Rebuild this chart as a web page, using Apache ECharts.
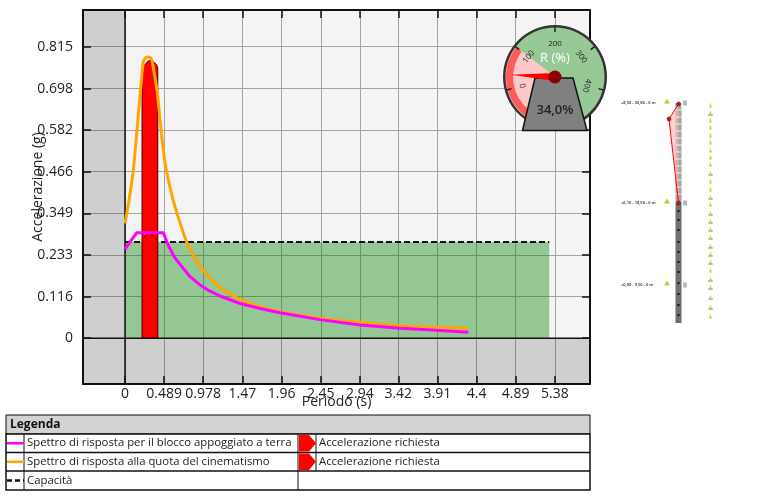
<!DOCTYPE html>
<html>
<head>
<meta charset="utf-8">
<style>
  html, body { margin: 0; padding: 0; background: #fff; }
  #chart { width: 757px; height: 496px; }
</style>
<script src="https://cdn.jsdelivr.net/npm/echarts@6/dist/echarts.min.js"></script>
</head>
<body>
<div id="chart"></div>
<script>
// axis ticks as printed on the chart
const periodTicks = [0, 0.489, 0.978, 1.47, 1.96, 2.45, 2.94, 3.42, 3.91, 4.4, 4.89, 5.38];
const accelTicks = [0, 0.116, 0.233, 0.349, 0.466, 0.582, 0.698, 0.815];

// spectra
const groundPeriod = [0, 0.146, 0.48, 0.542, 0.626, 0.814, 0.939, 1.052, 1.19, 1.44, 1.69, 1.94, 2.44, 2.94, 3.44, 3.9, 4.297];
const groundAccel = [0.249, 0.295, 0.295, 0.259, 0.224, 0.172, 0.149, 0.133, 0.118, 0.097, 0.083, 0.071, 0.052, 0.037, 0.028, 0.022, 0.017];
const storeyPeriod = [0, 0.05, 0.104, 0.15, 0.2, 0.229, 0.263, 0.292, 0.326, 0.342, 0.376, 0.405, 0.451, 0.501, 0.576, 0.626, 0.701, 0.772, 0.939, 1.106, 1.252, 1.44, 1.69, 1.941, 2.442, 2.943, 3.443, 3.9, 4.295];
const storeyAccel = [0.321, 0.386, 0.47, 0.582, 0.708, 0.772, 0.785, 0.786, 0.782, 0.772, 0.727, 0.686, 0.582, 0.49, 0.409, 0.367, 0.314, 0.269, 0.201, 0.159, 0.132, 0.109, 0.088, 0.074, 0.056, 0.0445, 0.035, 0.031, 0.028];
const capacityPeriod = [0, 5.31];
const capacityAccel = [0.269, 0.269];
const demandPeriod = [0.213, 0.213, 0.23, 0.29, 0.335, 0.396, 0.41, 0.41];
const demandAccel = [0, 0.7, 0.76, 0.775, 0.778, 0.764, 0.755, 0];
const demandGroundPeriod = [0.229, 0.313, 0.396];
const demandGroundAccel = [0.28, 0.294, 0.275];

// gauge
const gaugeValue = 34;
const gaugeLimit = 100;

// side diagram, in its own scale
const wallTop = 103;
const wallJoint = 203;
const wallBottom = 323;
const wallX = 678.5;
const mechanismX = [678.5, 669, 678.5];
const mechanismY = [104, 119, 203];
const upperJoints = [110, 117, 124, 131, 138, 145, 152, 159, 166, 173, 180, 187, 194];
const lowerJoints = [211, 220, 230, 242, 252, 262, 272, 283, 294, 305, 315];
const levelY = [103, 203, 285];
const levelLabels = ['+8,50 - 26,86 - 0 m', '+6,10 - 18,50 - 0 m', '+0,00 - 9,50 - 0 m'];
const loadY = [105, 113, 120, 127, 135, 142, 150, 157, 164, 173, 181, 189, 197, 204, 213, 221, 229, 237, 246, 254, 262, 270, 279, 287, 297, 307, 316];
const loadBaseY = [115, 175, 199, 215, 223, 231, 239, 248, 256, 264, 281, 289, 299, 309];

const legendRows = [
  ['Spettro di risposta per il blocco appoggiato a terra', 'Accelerazione richiesta'],
  ['Spettro di risposta alla quota del cinematismo', 'Accelerazione richiesta'],
  ['Capacità', '']
];

const FONT = '"Open Sans", sans-serif';
const xMin = -0.526, xMax = 5.82, yMin = -0.128, yMax = 0.9176;

const zip = (xs, ys) => xs.map((x, i) => [x, ys[i]]);

function line(name, data, color, extra) {
  return Object.assign({
    name, type: 'line', data, showSymbol: false, silent: true, animation: false,
    xAxisIndex: 0, yAxisIndex: 0,
    lineStyle: { color, width: 3 }, itemStyle: { color }
  }, extra);
}

function side(name, data, extra) {
  return Object.assign({ name, data, silent: true, animation: false, xAxisIndex: 2, yAxisIndex: 2 }, extra);
}

const frameAxis = {
  axisLine: { onZero: false, lineStyle: { color: '#111', width: 2 } },
  axisTick: { inside: true, length: 8, lineStyle: { color: '#111', width: 1.5 } }
};

const chart = echarts.init(document.getElementById('chart'), null, { renderer: 'canvas' });

// legend table
const legendGraphic = [];
const tableL = 6, tableR = 590, splitX = 298, keyX = 24, arrowX = 316;
const rowY = [434, 452.5, 471, 490];
legendGraphic.push({ type: 'rect', shape: { x: tableL, y: 415, width: tableR - tableL, height: 19 }, style: { fill: '#d3d3d3', stroke: '#111', lineWidth: 1 } });
legendGraphic.push({ type: 'rect', shape: { x: tableL, y: 434, width: tableR - tableL, height: 56 }, style: { fill: '#fff', stroke: '#111', lineWidth: 1.5 } });
legendGraphic.push({ type: 'text', x: 10, y: 424.5, style: { text: 'Legenda', font: 'bold 12px ' + FONT, fill: '#111', verticalAlign: 'middle' } });
rowY.slice(1, 3).forEach(y => {
  legendGraphic.push({ type: 'line', shape: { x1: tableL, y1: y, x2: tableR, y2: y }, style: { stroke: '#111', lineWidth: 1.5 } });
});
legendGraphic.push({ type: 'line', shape: { x1: keyX, y1: 434, x2: keyX, y2: 490 }, style: { stroke: '#111', lineWidth: 1 } });
legendGraphic.push({ type: 'line', shape: { x1: splitX, y1: 434, x2: splitX, y2: 490 }, style: { stroke: '#111', lineWidth: 1 } });
legendGraphic.push({ type: 'line', shape: { x1: arrowX, y1: 434, x2: arrowX, y2: 471 }, style: { stroke: '#111', lineWidth: 1 } });
const keyColors = ['#ff00ff', '#ffa500', '#111'];
legendRows.forEach((row, i) => {
  const mid = (rowY[i] + rowY[i + 1]) / 2;
  legendGraphic.push({ type: 'line', shape: { x1: 7, y1: mid, x2: keyX, y2: mid }, style: { stroke: keyColors[i], lineWidth: 2.5, lineDash: i === 2 ? [5, 3] : null } });
  legendGraphic.push({ type: 'text', x: 27, y: mid, style: { text: row[0], font: '11.35px ' + FONT, fill: '#222', verticalAlign: 'middle' } });
  if (row[1]) {
    legendGraphic.push({ type: 'polygon', shape: { points: [[299, rowY[i] + 1], [309, rowY[i] + 1], [316, mid], [309, rowY[i + 1] - 1], [299, rowY[i + 1] - 1]] }, style: { fill: '#f00' } });
    legendGraphic.push({ type: 'text', x: 319, y: mid, style: { text: row[1], font: '11.35px ' + FONT, fill: '#222', verticalAlign: 'middle' } });
  }
});
// gauge base
const gaugeBase = { type: 'polygon', z: 50, shape: { points: [[535, 78], [573, 78], [587, 130.5], [522.5, 130.5]] }, style: { fill: '#808080', stroke: '#111', lineWidth: 1.5 } };

const gaugeCenter = [555, 77];
const fillStop = (gaugeLimit + 100) / 600;

const option = {
  animation: false,
  backgroundColor: '#fff',
  textStyle: { fontFamily: FONT },
  graphic: { elements: legendGraphic.concat(gaugeBase) },
  grid: [
    { left: 83, top: 10, width: 507, height: 374, show: true, backgroundColor: '#f4f4f4', borderWidth: 0 },
    { left: 610, top: 90, width: 120, height: 240, show: false }
  ],
  xAxis: [
    Object.assign({}, frameAxis, {
      type: 'value', gridIndex: 0, position: 'bottom', min: xMin, max: xMax,
      name: 'Periodo (s)', nameLocation: 'middle', nameGap: 11, nameMoveOverlap: false,
      nameTextStyle: { fontSize: 14, color: '#222', fontFamily: FONT },
      axisTick: Object.assign({}, frameAxis.axisTick, { customValues: periodTicks }),
      axisLabel: { customValues: periodTicks, fontSize: 14, color: '#222', margin: 3, fontFamily: FONT, hideOverlap: false },
      splitLine: { show: true, customValues: periodTicks, lineStyle: { color: '#a3a3a3', width: 1 } }
    }),
    Object.assign({}, frameAxis, {
      type: 'value', gridIndex: 0, position: 'top', min: xMin, max: xMax,
      axisTick: Object.assign({}, frameAxis.axisTick, { customValues: periodTicks }),
      axisLabel: { show: false }, splitLine: { show: false }
    }),
    { type: 'value', gridIndex: 1, min: 610, max: 730, show: false }
  ],
  yAxis: [
    Object.assign({}, frameAxis, {
      type: 'value', gridIndex: 0, position: 'left', min: yMin, max: yMax,
      name: 'Accelerazione (g)', nameLocation: 'middle', nameGap: 38, nameRotate: 90, nameMoveOverlap: false,
      nameTextStyle: { fontSize: 14, color: '#222', fontFamily: FONT, padding: [0, 0, 0, 20] },
      axisTick: Object.assign({}, frameAxis.axisTick, { customValues: accelTicks }),
      axisLabel: { customValues: accelTicks, fontSize: 14, color: '#222', margin: 10, fontFamily: FONT, hideOverlap: false },
      splitLine: { show: true, customValues: accelTicks, lineStyle: { color: '#a3a3a3', width: 1 } }
    }),
    Object.assign({}, frameAxis, {
      type: 'value', gridIndex: 0, position: 'right', min: yMin, max: yMax,
      axisTick: Object.assign({}, frameAxis.axisTick, { customValues: accelTicks }),
      axisLabel: { show: false }, splitLine: { show: false }
    }),
    { type: 'value', gridIndex: 1, min: 90, max: 330, inverse: true, show: false }
  ],
  series: [
    // grey bands outside the positive quadrant
    line('bands', [], '#000', {
      markArea: {
        silent: true, itemStyle: { color: 'rgba(0,0,0,0.15)' },
        data: [
          [{ coord: [xMin, 0] }, { coord: [0, yMax] }],
          [{ coord: [xMin, yMin] }, { coord: [xMax, 0] }]
        ]
      }
    }),
    line('Capacità', zip(capacityPeriod, capacityAccel), '#111', {
      z: 3, lineStyle: { color: '#111', width: 2, type: [6, 3] }, areaStyle: { color: 'rgba(0,128,0,0.39)', opacity: 1 }
    }),
    line('Accelerazione richiesta', zip(demandPeriod, demandAccel), '#400000', {
      z: 4, lineStyle: { color: '#400000', width: 1 }, areaStyle: { color: '#f00', opacity: 1 }
    }),
    line('Accelerazione richiesta terra', zip(demandGroundPeriod, demandGroundAccel), '#400000', {
      z: 4, lineStyle: { color: '#400000', width: 0.7 }
    }),
    line('zero', [[0, yMin], [0, yMax], [0, 0], [xMin, 0], [xMax, 0]], '#111', {
      z: 5, lineStyle: { color: '#111', width: 1.5 }
    }),
    line('Spettro di risposta alla quota del cinematismo', zip(storeyPeriod, storeyAccel), '#ffa500', { z: 6, smooth: 0.2 }),
    line('Spettro di risposta per il blocco appoggiato a terra', zip(groundPeriod, groundAccel), '#ff00ff', { z: 7 }),

    // gauge: dial, rim, then scale and needle on top of the base
    {
      type: 'gauge', z: 10, silent: true, animation: false, center: gaugeCenter, radius: 50,
      startAngle: 247.5, endAngle: -67.5, min: -100, max: 500,
      axisLine: { lineStyle: { width: 50, color: [[fillStop, '#ffc8c8'], [1, '#97c997']] } },
      axisTick: { show: false }, splitLine: { show: false }, axisLabel: { show: false },
      pointer: { show: false }, anchor: { show: false }, title: { show: false }, detail: { show: false }, data: []
    },
    {
      type: 'gauge', z: 11, silent: true, animation: false, center: gaugeCenter, radius: 49,
      startAngle: 247.5, endAngle: -67.5, min: -100, max: 500,
      axisLine: { lineStyle: { width: 7, color: [[fillStop, '#ff5a5a'], [1, 'rgba(0,0,0,0)']] } },
      axisTick: { show: false }, splitLine: { show: false }, axisLabel: { show: false },
      pointer: { show: false }, anchor: { show: false }, title: { show: false }, detail: { show: false }, data: []
    },
    {
      type: 'gauge', z: 12, silent: true, animation: false, center: gaugeCenter, radius: 52,
      startAngle: 247.5, endAngle: -67.5, min: -100, max: 500,
      axisLine: { lineStyle: { width: 2.5, color: [[1, '#333']] } },
      axisTick: { show: false }, splitLine: { show: false }, axisLabel: { show: false },
      pointer: { show: false }, anchor: { show: false }, title: { show: false }, detail: { show: false }, data: []
    },
    {
      type: 'gauge', z: 60, silent: true, animation: false, center: gaugeCenter, radius: 50,
      startAngle: 195, endAngle: -15, min: 0, max: 400, splitNumber: 4,
      axisLine: { show: false, lineStyle: { width: 0 } },
      axisTick: { show: false },
      splitLine: { length: 5, distance: 0, lineStyle: { color: '#222', width: 1.5 } },
      axisLabel: { distance: 12, fontSize: 8, color: '#222', rotate: 'tangential', fontFamily: FONT },
      pointer: { length: 44, width: 4, offsetCenter: [0, 0], itemStyle: { color: '#f00' } },
      anchor: { show: true, size: 13, showAbove: true, itemStyle: { color: '#8b0000' } },
      title: { offsetCenter: [0, -19], fontSize: 13, color: '#fff', fontFamily: FONT },
      detail: {
        offsetCenter: [0, 33], fontSize: 13, fontWeight: 600, color: '#222', fontFamily: FONT,
        formatter: v => v.toFixed(1).replace('.', ',') + '%'
      },
      data: [{ value: gaugeValue, name: 'R (%)' }]
    },

    // side diagram
    side('wall lower', [[wallX, wallJoint], [wallX, wallBottom]], { type: 'line', z: 3, showSymbol: false, lineStyle: { color: '#6f6f6f', width: 6 } }),
    side('wall upper', [[wallX, wallTop], [wallX, wallJoint]], { type: 'line', z: 3, showSymbol: false, lineStyle: { color: '#a9a3a3', width: 6 } }),
    side('upper joints', upperJoints.map(y => [wallX, y]), { type: 'scatter', z: 4, symbol: 'rect', symbolSize: [6, 1], itemStyle: { color: '#eee', opacity: 1 } }),
    side('lower joints', lowerJoints.map(y => [wallX, y]), { type: 'scatter', z: 4, symbol: 'rect', symbolSize: [2, 2], itemStyle: { color: '#111', opacity: 1 } }),
    side('mechanism fill', [[wallX, wallTop]], {
      type: 'custom', z: 4, coordinateSystem: 'cartesian2d', encode: { x: 0, y: 1 },
      renderItem: (params, api) => ({
        type: 'polygon',
        shape: { points: zip(mechanismX, mechanismY).map(p => api.coord(p)) },
        style: { fill: 'rgba(255,180,180,0.6)' }
      })
    }),
    side('mechanism', zip(mechanismX, mechanismY), {
      type: 'line', symbol: 'circle', symbolSize: 4, z: 5,
      lineStyle: { color: '#f00', width: 1 }, itemStyle: { color: '#f00', borderColor: '#333', borderWidth: 0.7 }
    }),
    side('levels', levelY.map((y, i) => ({ value: [621, y], name: levelLabels[i] })), {
      type: 'scatter', symbolSize: 0,
      label: { show: true, position: 'right', distance: 0, fontSize: 4, fontWeight: 'bold', color: '#222', formatter: '{b}' }
    }),
    side('level marks', levelY.map(y => [667, y - 2]), { type: 'scatter', symbol: 'triangle', symbolSize: [6, 5], itemStyle: { color: '#c9c24a', opacity: 1 } }),
    side('level arrows', levelY.map(y => [685, y]), { type: 'scatter', symbol: 'rect', symbolSize: [4, 5], itemStyle: { color: '#a8c0c4', opacity: 1 } }),
    side('loads', loadY.map(y => [710.5, y]), { type: 'scatter', symbol: 'triangle', symbolSize: [3, 5], itemStyle: { color: '#d8d040', opacity: 1 } }),
    side('load bases', loadBaseY.map(y => [710.5, y]), { type: 'scatter', symbol: 'rect', symbolSize: [5, 1], itemStyle: { color: '#a39c78', opacity: 1 } })
  ]
};

chart.setOption(option);
</script>
</body>
</html>
